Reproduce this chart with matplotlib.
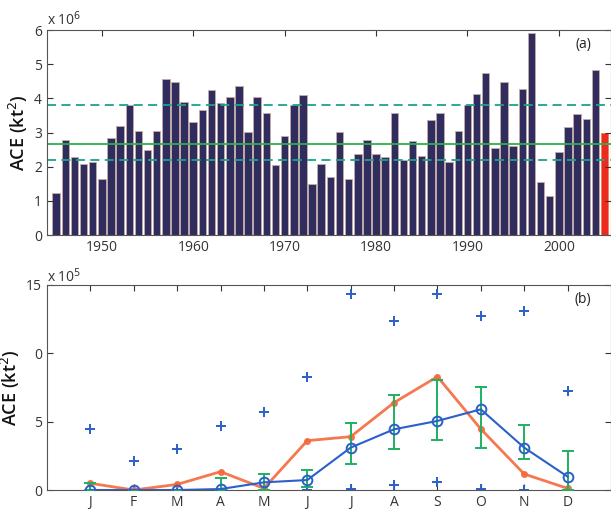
import numpy as np
import matplotlib.pyplot as plt

plt.rcParams['font.family'] = ['Open Sans', 'DejaVu Sans']

# (a) annual ACE, units of 1e6 kt^2
years = list(range(1945, 2005))
ace_year = [1.22, 2.77, 2.29, 2.09, 2.13, 1.63, 2.84, 3.20, 3.81, 3.05,
            2.50, 3.04, 4.58, 4.48, 3.89, 3.30, 3.67, 4.24, 3.86, 4.04,
            4.36, 3.02, 4.03, 3.58, 2.05, 2.89, 3.81, 4.10, 1.49, 2.07,
            1.71, 3.01, 1.64, 2.37, 2.79, 2.38, 2.29, 3.57, 2.20, 2.75,
            2.32, 3.37, 3.58, 2.15, 3.05, 3.81, 4.14, 4.74, 2.54, 4.47,
            2.62, 4.27, 5.90, 1.56, 1.14, 2.44, 3.17, 3.53, 3.40, 4.82]
year_2005 = 2005
ace_2005 = 2.99
ace_mean = 2.68
ace_low = 2.19
ace_high = 3.80

# (b) monthly ACE, units of 1e5 kt^2
months = ['J', 'F', 'M', 'A', 'M', 'J', 'J', 'A', 'S', 'O', 'N', 'D']
clim_mean = [0.0, 0.0, 0.0, 0.07, 0.56, 0.73, 3.10, 4.44, 5.05, 5.90, 3.10, 0.98]
err_low = [0.0, 0.0, 0.0, 0.0, 0.0, 0.24, 1.90, 3.02, 3.63, 3.05, 2.27, 0.0]
err_high = [0.5, 0.0, 0.0, 0.85, 1.15, 1.44, 4.93, 6.98, 8.05, 7.51, 4.78, 2.88]
max_month = [4.46, 2.12, 3.00, 4.71, 5.71, 8.27, 14.34, 12.37, 14.34, 12.73, 13.10, 7.24]
min_month = [0.0, 0.0, 0.0, 0.0, 0.0, 0.0, 0.07, 0.37, 0.60, 0.07, 0.0, 0.0]
ace_2005_month = [0.49, 0.0, 0.41, 1.34, 0.12, 3.61, 3.90, 6.39, 8.29, 4.46, 1.17, 0.12]

navy = '#2e2d5e'
green = '#2bb24c'
teal = '#17a58a'
orange = '#f46a3c'
blue = '#2b5fc9'
tick_col = '#333333'

fig = plt.figure(figsize=(6.11, 5.09), dpi=100)
ax1 = fig.add_axes([0.0769, 0.538, 0.923, 0.403])
ax2 = fig.add_axes([0.0769, 0.0373, 0.923, 0.403])

for ax in (ax1, ax2):
    ax.tick_params(direction='in', top=True, right=True, labelsize=10,
                   colors=tick_col, length=4)
    for s in ax.spines.values():
        s.set_color('#555555')
        s.set_linewidth(0.8)
    ax.set_ylabel('ACE (kt$^2$)', fontsize=13, fontweight='semibold',
                  color='#111111', labelpad=3)

# ---- (a)
ax1.bar(years, ace_year, width=0.82, color=navy, edgecolor='#c9a9a9', linewidth=0.6)
ax1.bar([year_2005], [ace_2005], width=0.82, color='#ee2a1e', edgecolor='#f08050', linewidth=0.6)
ax1.axhline(ace_mean, color=green, lw=1.3)
ax1.axhline(ace_high, color=teal, lw=1.3, ls=(0, (5, 3)))
ax1.axhline(ace_low, color=teal, lw=1.3, ls=(0, (5, 3)))
ax1.set_xlim(1944, 2005.7)
ax1.set_ylim(0, 6)
ax1.set_xticks([1950, 1960, 1970, 1980, 1990, 2000])
ax1.set_yticks(range(7))
ax1.text(0.0, 1.025, 'x 10$^6$', transform=ax1.transAxes, fontsize=10, color=tick_col)
ax1.text(0.965, 0.91, '(a)', transform=ax1.transAxes, fontsize=10, color='#222222', ha='right')

# ---- (b)
x = np.arange(1, 13)
ax2.plot(x, max_month, '+', color=blue, ms=7, mew=1.4, zorder=2)
ax2.plot(x, min_month, '+', color=blue, ms=7, mew=1.4, zorder=2)
ax2.plot(x, ace_2005_month, '-o', color=orange, lw=2, ms=4, alpha=0.9, zorder=3)
ax2.errorbar(x, clim_mean,
             yerr=[np.array(clim_mean) - np.array(err_low), np.array(err_high) - np.array(clim_mean)],
             fmt='none', ecolor='#20b060', elinewidth=1.4, capsize=4, capthick=1.4, zorder=4)
ax2.plot(x, clim_mean, '-o', color=blue, lw=1.5, ms=7, mfc='none', mew=1.4, zorder=5)
ax2.set_xlim(0, 13)
ax2.set_ylim(0, 15)
ax2.set_xticks(x)
ax2.set_xticklabels(months)
ax2.set_yticks([0, 5, 10, 15])
ax2.set_yticklabels(['0', '5', '0', '15'])
ax2.text(0.0, 1.015, 'x 10$^5$', transform=ax2.transAxes, fontsize=10, color=tick_col)
ax2.text(0.965, 0.91, '(b)', transform=ax2.transAxes, fontsize=10, color='#222222', ha='right')

fig.savefig('out.png', dpi=100)
